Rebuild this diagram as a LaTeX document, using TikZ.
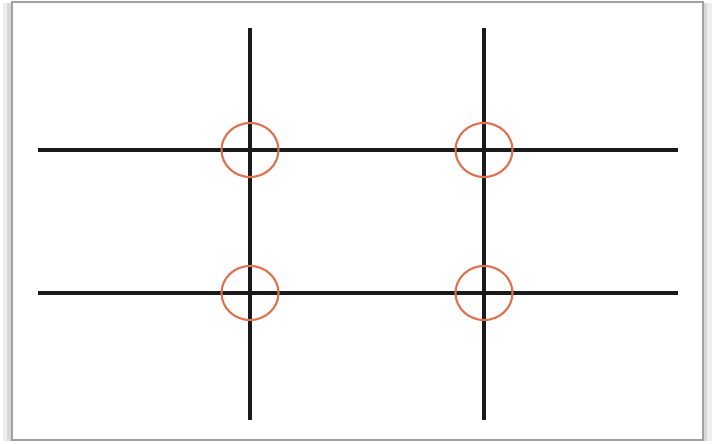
\documentclass[tikz,border=0pt]{standalone}
\usepackage{xcolor}
\usetikzlibrary{positioning,shapes.geometric}
\definecolor{ink900}{HTML}{1A1A1A}
\definecolor{frame400}{HTML}{A0A0A0}
\definecolor{frame200}{HTML}{D8D8D8}
\definecolor{frame100}{HTML}{EDEDED}
\definecolor{coral500}{HTML}{E0704E}
\tikzset{
  gridline/.style={draw=ink900, line width=2pt},
  spot/.style={
    ellipse, draw=coral500, line width=1.2pt,
    minimum width=1.14cm, minimum height=1.08cm, inner sep=0pt
  },
  frameline/.style={draw=frame400, line width=1pt},
}

\begin{document}
\begin{tikzpicture}[x=0.02cm, y=-0.02cm]
  \useasboundingbox (0,0) rectangle (715,443);
  % shadow and frame
  \fill[frame100] (3,3) rectangle (16,441);
  \fill[frame100] (698,3) rectangle (712,441);
  \fill[frame200] (7,3) rectangle (15,441);
  \fill[frame200] (699,3) rectangle (707,441);
  \fill[white] (12,2) rectangle (703,440);
  \draw[frameline] (12,2) rectangle (703,440);
  % thirds
  \coordinate (v1top) at (250,28);
  \coordinate (v1bot) at (250,420);
  \coordinate (v2top) at (484,28);
  \coordinate (v2bot) at (484,420);
  \coordinate (h1left) at (38,150);
  \coordinate (h1right) at (678,150);
  \coordinate (h2left) at (38,293);
  \coordinate (h2right) at (678,293);
  \draw[gridline] (v1top) -- (v1bot);
  \draw[gridline] (v2top) -- (v2bot);
  \draw[gridline] (h1left) -- (h1right);
  \draw[gridline] (h2left) -- (h2right);
  % power points
  \node[spot] (spotTL) at (250,150) {};
  \node[spot] (spotTR) at (484,150) {};
  \node[spot] (spotBL) at (250,293) {};
  \node[spot] (spotBR) at (484,293) {};
\end{tikzpicture}
\end{document}
